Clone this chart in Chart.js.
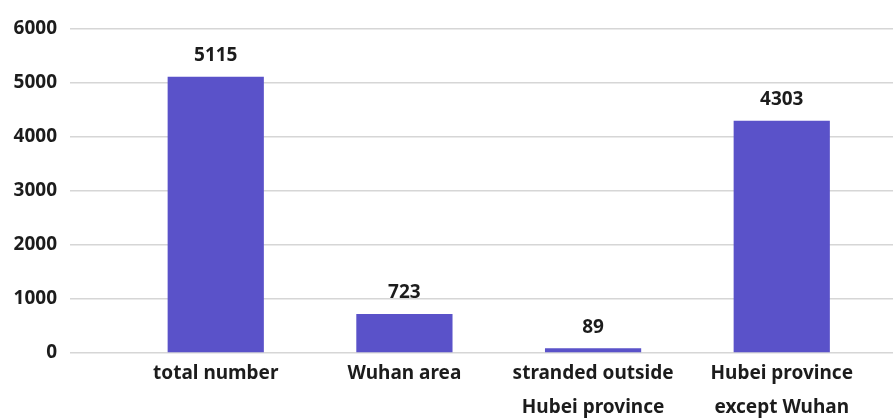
<!DOCTYPE html>
<html>
<head>
<meta charset="utf-8">
<script src="https://cdn.jsdelivr.net/npm/chart.js@4.4.1/dist/chart.umd.min.js"></script>
<style>
  html, body { margin: 0; padding: 0; background: #fff; }
  #wrap { width: 893px; height: 420px; }
</style>
</head>
<body>
<div id="wrap"><canvas id="chart"></canvas></div>
<script>
// chart data
var categories = [
  ['total number'],
  ['Wuhan area'],
  ['stranded outside', 'Hubei province'],
  ['Hubei province', 'except Wuhan']
];
var counts = [5115, 723, 89, 4303];
var yTicks = [0, 1000, 2000, 3000, 4000, 5000, 6000];

var barColor = '#5a52c9';
var textColor = '#1c1c1c';
var gridColor = '#d6d6d6';

// value labels above each bar
var valueLabels = {
  id: 'valueLabels',
  afterDatasetsDraw: function(chart) {
    var ctx = chart.ctx;
    var meta = chart.getDatasetMeta(0);
    ctx.save();
    ctx.font = 'bold 19px "Noto Sans"';
    ctx.fillStyle = textColor;
    ctx.textAlign = 'center';
    ctx.textBaseline = 'middle';
    meta.data.forEach(function(bar, i) {
      ctx.fillText(counts[i], bar.x, bar.y - 21);
    });
    ctx.restore();
  }
};

var ctx = document.getElementById('chart').getContext('2d');
var myChart = new Chart(ctx, {
  type: 'bar',
  data: {
    datasets: [{
      data: counts.map(function(v, i) { return { x: i, y: v }; }),
      backgroundColor: barColor,
      borderWidth: 0,
      categoryPercentage: 1,
      barPercentage: 0.51
    }]
  },
  options: {
    responsive: true,
    maintainAspectRatio: false,
    animation: false,
    layout: { padding: { left: 12, right: 0, top: 29, bottom: 0 } },
    plugins: {
      legend: { display: false },
      tooltip: { enabled: false }
    },
    scales: {
      x: {
        type: 'linear',
        offset: false,
        // the plot area runs wider than the four bars, as in the original
        min: -0.7725,
        max: 3.5897,
        grid: { display: false },
        border: { display: false },
        afterBuildTicks: function(scale) {
          scale.ticks = categories.map(function(c, i) { return { value: i }; });
        },
        ticks: {
          color: textColor,
          padding: -4,
          maxRotation: 0,
          autoSkip: false,
          font: { family: 'Noto Sans', size: 19, weight: 'bold', lineHeight: '34px' },
          callback: function(value) { return categories[value]; }
        },
        afterFit: function(scale) { scale.height = 67; }
      },
      y: {
        min: 0,
        max: 6000,
        grid: { color: gridColor, lineWidth: 1.5, drawTicks: false },
        border: { display: false },
        afterBuildTicks: function(scale) {
          scale.ticks = yTicks.map(function(v) { return { value: v }; });
        },
        ticks: {
          color: textColor,
          padding: 13,
          font: { family: 'Noto Sans', size: 19, weight: 'bold' },
          callback: function(value) { return String(value); }
        },
        afterFit: function(scale) { scale.width = 58; }
      }
    }
  },
  plugins: [valueLabels]
});
</script>
</body>
</html>
